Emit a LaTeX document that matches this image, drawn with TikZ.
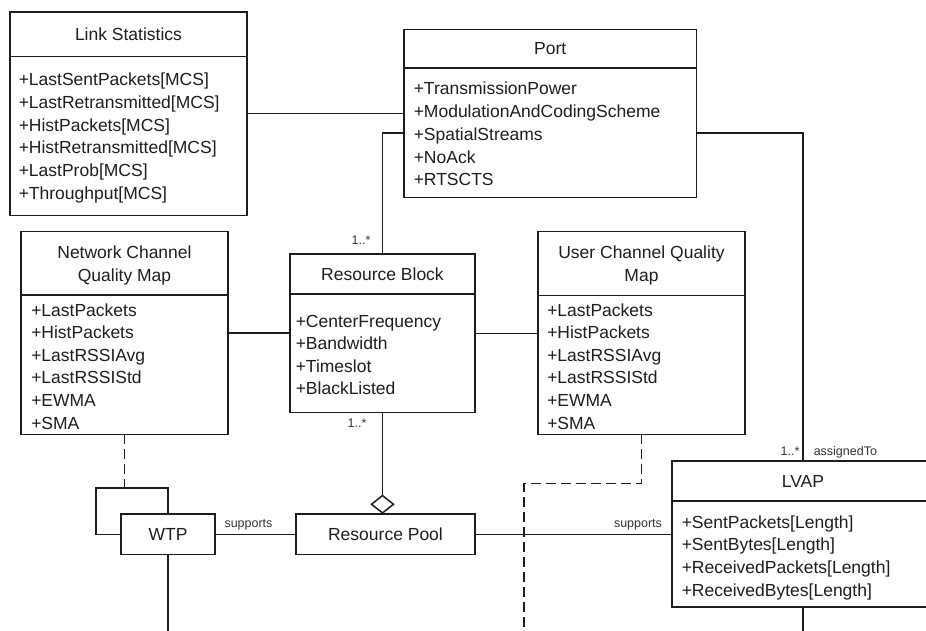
\documentclass[tikz,border=0pt]{standalone}
\usepackage{fontspec}
\setmainfont{Liberation Sans}
\usetikzlibrary{shapes.geometric}
\definecolor{ink}{HTML}{1E1E1E}
\definecolor{labink}{HTML}{333333}
\newcommand{\bodyfnt}{\fontsize{17.5}{22.7}\selectfont}
\newcommand{\labfnt}{\fontsize{12.5}{15}\selectfont}
\newcommand{\attrlist}[5]{%
  \foreach \t [count=\i from 0] in {#5} {\node[attr] (#1-\i) at (#2, {#3+\i*#4}) {\t};}}
\begin{document}
\begin{tikzpicture}[x=1pt,y=-1pt,
  line width=1.5pt, draw=ink,
  box/.style={draw=ink, line width=1.5pt, inner sep=0pt, outer sep=0pt, anchor=north west, rectangle},
  attr/.style={anchor=base west, inner sep=0pt, font=\bodyfnt, text=ink},
  ttl/.style={anchor=base, inner sep=0pt, font=\bodyfnt, text=ink},
  lab/.style={inner sep=0pt, font=\labfnt, text=labink},
  conn/.style={draw=ink, line width=1.5pt},
  dep/.style={draw=ink, line width=1.5pt, dash pattern=on 10pt off 5pt},
  agg/.style={diamond, draw=ink, line width=1.5pt, fill=white, inner sep=0pt, minimum width=22.6pt, minimum height=18pt}]
\useasboundingbox (0,0) rectangle (926,631);
\clip (0,0) rectangle (926,631);
\fill[white] (0,0) rectangle (926,631);
\coordinate (bot) at (0,645);
\coordinate (pb) at (0,133);
\coordinate (lp) at (96,488);
\coordinate (uk) at (524,483.7);

% ---- boxes ----
\node[box, minimum width=237pt, minimum height=203.3pt] (ls) at (10,12) {};
\draw[conn] (10,56.3) -- (247,56.3);
\node[box, minimum width=292.5pt, minimum height=168pt] (port) at (404,29.4) {};
\draw[conn] (404,68) -- (696.5,68);
\node[box, minimum width=207pt, minimum height=203pt] (ncqm) at (21,231.4) {};
\draw[conn] (21,295) -- (228,295);
\node[box, minimum width=185pt, minimum height=158.5pt] (rb) at (290,254) {};
\draw[conn] (290,294) -- (475,294);
\node[box, minimum width=207pt, minimum height=203pt] (ucqm) at (538,231.4) {};
\draw[conn] (538,295.5) -- (745,295.5);
\node[box, minimum width=262pt, minimum height=146.2pt] (lvap) at (672,460.8) {};
\draw[conn] (672,501) -- (934,501);
\node[box, minimum width=94pt, minimum height=40.5pt] (wtp) at (121,514) {};
\node[box, minimum width=179pt, minimum height=40.5pt] (pool) at (296,514) {};

% ---- titles ----
\node[ttl] (ls-t) at (128.5,40.3) {Link Statistics};
\node[ttl] (port-t) at (550.2,55) {Port};
\node[ttl] (ncqm-t1) at (124.5,258.9) {Network Channel};
\node[ttl] (ncqm-t2) at (124.5,281.5) {Quality Map};
\node[ttl] (rb-t) at (382.5,280.3) {Resource Block};
\node[ttl] (ucqm-t1) at (641.5,258.9) {User Channel Quality};
\node[ttl] (ucqm-t2) at (641.5,281.5) {Map};
\node[ttl] (lvap-t) at (803,487.2) {LVAP};
\node[ttl] (wtp-t) at (168,540.6) {WTP};
\node[ttl] (pool-t) at (385.5,540.6) {Resource Pool};

% ---- attributes ----
\attrlist{lsa}{18}{85.8}{22.7}{+LastSentPackets[MCS],+LastRetransmitted[MCS],+HistPackets[MCS],+HistRetransmitted[MCS],+LastProb[MCS],+Throughput[MCS]}
\attrlist{porta}{413}{95}{22.7}{+TransmissionPower,+ModulationAndCodingScheme,+SpatialStreams,+NoAck,+RTSCTS}
\attrlist{ncqma}{30.5}{316}{22.6}{+LastPackets,+HistPackets,+LastRSSIAvg,+LastRSSIStd,+EWMA,+SMA}
\attrlist{rba}{295}{327}{22.5}{+CenterFrequency,+Bandwidth,+Timeslot,+BlackListed}
\attrlist{ucqma}{546.5}{316}{22.6}{+LastPackets,+HistPackets,+LastRSSIAvg,+LastRSSIStd,+EWMA,+SMA}
\attrlist{lvapa}{681}{528.3}{22.6}{+SentPackets[Length],+SentBytes[Length],+ReceivedPackets[Length],+ReceivedBytes[Length]}

% ---- connectors ----
\draw[conn] (ls.east) -- (ls.east -| port.west);
\draw[conn] (port.west |- pb) -| (rb.north);
\draw[conn] (port.east |- pb) -| (lvap.north);
\draw[conn] (ncqm.east) -- (ncqm.east -| rb.west);
\draw[conn] (rb.east) -- (rb.east -| ucqm.west);
\node[agg, anchor=south] (dia) at (382.5,514) {};
\draw[conn] (rb.south) -- (dia.north);
\draw[conn] (wtp.east) -- (wtp.east -| pool.west);
\draw[conn] (pool.east) -- (pool.east -| lvap.west);
\draw[conn] (wtp.north) |- (lp) |- (wtp.west);
\draw[conn] (wtp.south) -- (wtp.south |- bot);
\draw[conn] (lvap.south) -- (lvap.south |- bot);
\draw[dep] (ncqm.south) -- (ncqm.south |- lp);
\draw[dep] (ucqm.south) |- (uk) -- (uk |- bot);

% ---- labels ----
\node[lab, anchor=base] (m1) at (361,244.5) {1..*};
\node[lab, anchor=base] (m2) at (357,427) {1..*};
\node[lab, anchor=base] (m3) at (790,455) {1..*};
\node[lab, anchor=base west] (asg) at (813,455) {assignedTo};
\node[lab, anchor=base] (s1) at (248.5,527) {supports};
\node[lab, anchor=base] (s2) at (638,527) {supports};
\end{tikzpicture}
\end{document}
